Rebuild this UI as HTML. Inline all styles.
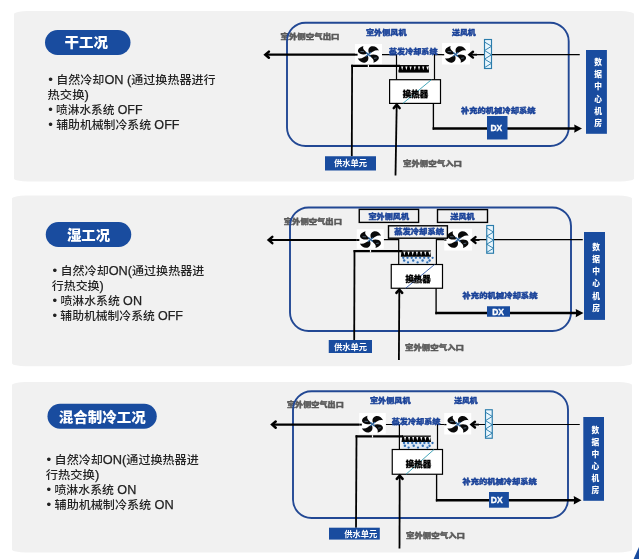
<!DOCTYPE html>
<html lang="zh-CN">
<head>
<meta charset="utf-8">
<title>干工况 / 湿工况 / 混合制冷工况</title>
<style>
html,body{margin:0;padding:0;background:#fff;}
body{width:639px;height:559px;overflow:hidden;}
svg{display:block;transform:translateZ(0);will-change:transform;font-family:'Liberation Sans', 'Noto Sans CJK SC', sans-serif;}
</style>
</head>
<body>
<svg width="639" height="559" viewBox="0 0 639 559">
<rect width="639" height="559" fill="#ffffff"/>
<rect x="14" y="11" width="620" height="170.5" rx="14" ry="3" fill="#f1f1f1"/>
<rect x="45" y="30" width="85.5" height="25" rx="12.5" fill="#194c9f"/>
<text x="86.25" y="42.3" font-size="13.8" fill="#fff" font-weight="900" text-anchor="middle" dominant-baseline="central" textLength="43.5" lengthAdjust="spacingAndGlyphs">干工况</text>
<text x="48.25" y="79.5" font-size="11.5" fill="#222222" font-weight="500" text-anchor="start" dominant-baseline="central" textLength="167.25" lengthAdjust="spacingAndGlyphs"><tspan font-size="12.8" dy="-0.9">•</tspan><tspan dy="0.9"> </tspan>自然冷却<tspan font-size="12.2" font-weight="400" stroke="#222" stroke-width="0.25">ON (</tspan>通过换热器进行</text>
<text x="47.5" y="94.5" font-size="11.5" fill="#222222" font-weight="500" text-anchor="start" dominant-baseline="central" textLength="41.3" lengthAdjust="spacingAndGlyphs">热交换<tspan font-size="12.2" font-weight="400" stroke="#222" stroke-width="0.25">)</tspan></text>
<text x="48.25" y="109.5" font-size="11.5" fill="#222222" font-weight="500" text-anchor="start" dominant-baseline="central" textLength="94.25" lengthAdjust="spacingAndGlyphs"><tspan font-size="12.8" dy="-0.9">•</tspan><tspan dy="0.9"> </tspan>喷淋水系统 <tspan font-size="12.2" font-weight="400" stroke="#222" stroke-width="0.25">OFF</tspan></text>
<text x="48.25" y="124.5" font-size="11.5" fill="#222222" font-weight="500" text-anchor="start" dominant-baseline="central" textLength="131.25" lengthAdjust="spacingAndGlyphs"><tspan font-size="12.8" dy="-0.9">•</tspan><tspan dy="0.9"> </tspan>辅助机械制冷系统 <tspan font-size="12.2" font-weight="400" stroke="#222" stroke-width="0.25">OFF</tspan></text>
<text x="280.5" y="36.3" font-size="6.9" fill="#5a5a5a" font-weight="900" text-anchor="start" dominant-baseline="central" stroke="#5a5a5a" stroke-width="0.4" stroke-linejoin="round" textLength="59.0" lengthAdjust="spacingAndGlyphs">室外侧空气出口</text>
<rect x="287" y="22.7" width="281.70000000000005" height="123.3" rx="18.5" fill="none" stroke="#224894" stroke-width="1.9"/>
<line x1="265.5" y1="54.7" x2="358" y2="54.7" stroke="#000" stroke-width="2.2"/>
<path d="M268.9,51.6 L265.3,54.7 L268.9,57.800000000000004" fill="none" stroke="#000" stroke-width="2.5" stroke-linecap="round" stroke-linejoin="miter"/>
<path d="M382,54.6 L396.5,54.6 L396.5,79.7" fill="none" stroke="#000" stroke-width="1.2"/>
<path d="M445,54.6 L434.5,54.6 L434.5,79.7" fill="none" stroke="#000" stroke-width="1.2"/>
<line x1="470" y1="54.6" x2="579.75" y2="54.6" stroke="#000" stroke-width="1.1"/>
<line x1="351.8" y1="156.25" x2="352.1" y2="64.80000000000001" stroke="#000" stroke-width="1.8"/>
<line x1="351.15000000000003" y1="65.9" x2="400" y2="65.9" stroke="#000" stroke-width="2.2"/>
<line x1="399" y1="65.60000000000001" x2="428.9" y2="65.60000000000001" stroke="#000" stroke-width="1.1"/>
<path d="M398.50,71.5 L399.30,65.9 L428.20,65.9 L429.00,71.5 Z" fill="#000"/>
<path d="M401.11,66.4 L403.21,66.4 L402.16,70.2 Z M405.32,66.4 L407.43,66.4 L406.38,70.2 Z M409.54,66.4 L411.64,66.4 L410.59,70.2 Z M413.75,66.4 L415.86,66.4 L414.80,70.2 Z M417.96,66.4 L420.07,66.4 L419.02,70.2 Z M422.18,66.4 L424.29,66.4 L423.23,70.2 Z M426.39,66.4 L428.50,66.4 L427.45,70.2 Z " fill="#f6f6f6"/>
<rect x="398.6" y="70.30000000000001" width="30.3" height="2.3" fill="#000"/>
<rect x="389.6" y="79.7" width="50.89999999999998" height="23.700000000000003" fill="#fff" stroke="#000" stroke-width="1.2"/>
<line x1="402.9" y1="103.4" x2="431.4" y2="79.7" stroke="#2e9bb0" stroke-width="0.9"/>
<text x="415.55" y="94.3" font-size="8.0" fill="#000" font-weight="900" text-anchor="middle" dominant-baseline="central" stroke="#000" stroke-width="0.35" stroke-linejoin="round" textLength="25.4" lengthAdjust="spacingAndGlyphs">换热器</text>
<line x1="433.4" y1="103.4" x2="433.4" y2="129.7" stroke="#000" stroke-width="1.35"/>
<line x1="432.59999999999997" y1="128.6" x2="577" y2="128.6" stroke="#000" stroke-width="2.5"/>
<path d="M582,128.6 l-7.8,-4.2 l0.5,4.2 l-0.5,4.2 Z" fill="#000"/>
<rect x="487" y="116" width="20.5" height="23.5" fill="#194c9f"/>
<text x="490.4" y="127.95" font-size="8.6" fill="#fff" font-weight="bold" text-anchor="start" dominant-baseline="central" stroke="#fff" stroke-width="0.35" stroke-linejoin="round" textLength="11.8" lengthAdjust="spacingAndGlyphs">DX</text>
<line x1="396.7" y1="104.9" x2="395.5" y2="175.5" stroke="#000" stroke-width="1.8"/>
<path d="M393.8,108.0 L396.7,104.80000000000001 L399.59999999999997,108.0" fill="none" stroke="#000" stroke-width="2.6" stroke-linecap="round" stroke-linejoin="miter"/>
<rect x="325" y="156.25" width="51" height="14.25" fill="#194c9f"/>
<text x="334" y="163.3" font-size="8.5" fill="#fff" font-weight="700" text-anchor="start" dominant-baseline="central" textLength="33" lengthAdjust="spacingAndGlyphs">供水单元</text>
<rect x="586" y="50" width="20.899999999999977" height="83.80000000000001" fill="#194c9f"/>
<text x="597.15" y="58.00" font-size="7.7" fill="#fff" font-weight="900" style="writing-mode:vertical-rl;text-orientation:upright;letter-spacing:4.60px" dominant-baseline="central">数据中心机房</text>
<rect x="355" y="44" width="27" height="20" fill="#fff"/>
<g transform="translate(368.4,54.4) scale(0.9636,0.7613)"><path d="M0.7,-1.5 C-0.6,-5 -0.2,-9.2 3.2,-10.6 C6.6,-11.7 9.7,-8.8 11,-5.2 C8.8,-5.9 6.8,-5.4 5.0,-3.9 C3.8,-2.9 2.4,-1.6 0.7,-1.5 Z" transform="rotate(0)" fill="#0a0a0a"/><path d="M0.7,-1.5 C-0.6,-5 -0.2,-9.2 3.2,-10.6 C6.6,-11.7 9.7,-8.8 11,-5.2 C8.8,-5.9 6.8,-5.4 5.0,-3.9 C3.8,-2.9 2.4,-1.6 0.7,-1.5 Z" transform="rotate(90)" fill="#0a0a0a"/><path d="M0.7,-1.5 C-0.6,-5 -0.2,-9.2 3.2,-10.6 C6.6,-11.7 9.7,-8.8 11,-5.2 C8.8,-5.9 6.8,-5.4 5.0,-3.9 C3.8,-2.9 2.4,-1.6 0.7,-1.5 Z" transform="rotate(180)" fill="#0a0a0a"/><path d="M0.7,-1.5 C-0.6,-5 -0.2,-9.2 3.2,-10.6 C6.6,-11.7 9.7,-8.8 11,-5.2 C8.8,-5.9 6.8,-5.4 5.0,-3.9 C3.8,-2.9 2.4,-1.6 0.7,-1.5 Z" transform="rotate(270)" fill="#0a0a0a"/><path d="M-2.4,-2.8 L2.4,2.8 M-2.6,2.6 L2.6,-2.6" stroke="#2d639c" stroke-width="1.5" fill="none"/><path d="M-8.2,-3.8 L-4.6,-3.6 M5.8,5.2 L8.6,4.6" stroke="#9cc3e6" stroke-width="0.7" fill="none" opacity="0.8"/></g>
<rect x="442" y="43" width="28" height="21.5" fill="#fff"/>
<g transform="translate(455.6,54.4) scale(0.9636,0.7613)"><path d="M0.7,-1.5 C-0.6,-5 -0.2,-9.2 3.2,-10.6 C6.6,-11.7 9.7,-8.8 11,-5.2 C8.8,-5.9 6.8,-5.4 5.0,-3.9 C3.8,-2.9 2.4,-1.6 0.7,-1.5 Z" transform="rotate(0)" fill="#0a0a0a"/><path d="M0.7,-1.5 C-0.6,-5 -0.2,-9.2 3.2,-10.6 C6.6,-11.7 9.7,-8.8 11,-5.2 C8.8,-5.9 6.8,-5.4 5.0,-3.9 C3.8,-2.9 2.4,-1.6 0.7,-1.5 Z" transform="rotate(90)" fill="#0a0a0a"/><path d="M0.7,-1.5 C-0.6,-5 -0.2,-9.2 3.2,-10.6 C6.6,-11.7 9.7,-8.8 11,-5.2 C8.8,-5.9 6.8,-5.4 5.0,-3.9 C3.8,-2.9 2.4,-1.6 0.7,-1.5 Z" transform="rotate(180)" fill="#0a0a0a"/><path d="M0.7,-1.5 C-0.6,-5 -0.2,-9.2 3.2,-10.6 C6.6,-11.7 9.7,-8.8 11,-5.2 C8.8,-5.9 6.8,-5.4 5.0,-3.9 C3.8,-2.9 2.4,-1.6 0.7,-1.5 Z" transform="rotate(270)" fill="#0a0a0a"/><path d="M-2.4,-2.8 L2.4,2.8 M-2.6,2.6 L2.6,-2.6" stroke="#2d639c" stroke-width="1.5" fill="none"/><path d="M-8.2,-3.8 L-4.6,-3.6 M5.8,5.2 L8.6,4.6" stroke="#9cc3e6" stroke-width="0.7" fill="none" opacity="0.8"/></g>
<rect x="367.79999999999995" y="64.7" width="1.2" height="2.4" fill="#f4f4f4"/>
<line x1="355" y1="54.7" x2="357.6" y2="54.7" stroke="#000" stroke-width="1.9"/>
<line x1="442" y1="54.7" x2="444.2" y2="54.7" stroke="#000" stroke-width="1.3"/>
<path d="M473.0,51.800000000000004 L469.4,54.7 L473.0,57.6" fill="none" stroke="#000" stroke-width="2.4" stroke-linecap="round" stroke-linejoin="miter"/>
<line x1="469.5" y1="54.7" x2="477" y2="54.7" stroke="#000" stroke-width="1.8"/>
<rect x="484.5" y="39.5" width="7" height="29" fill="#e9f6fd" stroke="#2b7cab" stroke-width="1.15"/>
<path d="M484.5,42.00 L491.5,46.27 L484.5,50.53 M484.5,50.53 L491.5,54.80 L484.5,59.07 M484.5,59.07 L491.5,63.33 L484.5,67.60 " fill="none" stroke="#2b7cab" stroke-width="0.95"/>
<text x="366" y="32.3" font-size="6.9" fill="#1b4399" font-weight="900" text-anchor="start" dominant-baseline="central" stroke="#1b4399" stroke-width="0.4" stroke-linejoin="round" textLength="40.5" lengthAdjust="spacingAndGlyphs">室外侧风机</text>
<text x="389" y="51.4" font-size="6.7" fill="#1b4399" font-weight="900" text-anchor="start" dominant-baseline="central" stroke="#1b4399" stroke-width="0.4" stroke-linejoin="round" textLength="48.5" lengthAdjust="spacingAndGlyphs">蒸发冷却系统</text>
<text x="452" y="32.8" font-size="6.9" fill="#1b4399" font-weight="900" text-anchor="start" dominant-baseline="central" stroke="#1b4399" stroke-width="0.4" stroke-linejoin="round" textLength="23.75" lengthAdjust="spacingAndGlyphs">送风机</text>
<text x="461" y="110.8" font-size="6.9" fill="#1b4399" font-weight="900" text-anchor="start" dominant-baseline="central" stroke="#1b4399" stroke-width="0.4" stroke-linejoin="round" textLength="74.5" lengthAdjust="spacingAndGlyphs">补充的机械冷却系统</text>
<text x="403" y="163.3" font-size="6.9" fill="#5a5a5a" font-weight="900" text-anchor="start" dominant-baseline="central" stroke="#5a5a5a" stroke-width="0.4" stroke-linejoin="round" textLength="59" lengthAdjust="spacingAndGlyphs">室外侧空气入口</text>
<rect x="12" y="195.5" width="620" height="170.75" rx="14" ry="3" fill="#f1f1f1"/>
<rect x="45.75" y="222" width="85.5" height="25" rx="12.5" fill="#194c9f"/>
<text x="88.5" y="235" font-size="13.8" fill="#fff" font-weight="900" text-anchor="middle" dominant-baseline="central" textLength="43" lengthAdjust="spacingAndGlyphs">湿工况</text>
<text x="52.5" y="270.5" font-size="11.5" fill="#222222" font-weight="500" text-anchor="start" dominant-baseline="central" textLength="151.75" lengthAdjust="spacingAndGlyphs"><tspan font-size="12.8" dy="-0.9">•</tspan><tspan dy="0.9"> </tspan>自然冷却<tspan font-size="12.2" font-weight="400" stroke="#222" stroke-width="0.25">ON(</tspan>通过换热器进</text>
<text x="51.75" y="285.5" font-size="11.5" fill="#222222" font-weight="500" text-anchor="start" dominant-baseline="central" textLength="52" lengthAdjust="spacingAndGlyphs">行热交换<tspan font-size="12.2" font-weight="400" stroke="#222" stroke-width="0.25">)</tspan></text>
<text x="52.5" y="300.5" font-size="11.5" fill="#222222" font-weight="500" text-anchor="start" dominant-baseline="central" textLength="89.5" lengthAdjust="spacingAndGlyphs"><tspan font-size="12.8" dy="-0.9">•</tspan><tspan dy="0.9"> </tspan>喷淋水系统 <tspan font-size="12.2" font-weight="400" stroke="#222" stroke-width="0.25">ON</tspan></text>
<text x="52.5" y="315.75" font-size="11.5" fill="#222222" font-weight="500" text-anchor="start" dominant-baseline="central" textLength="130.5" lengthAdjust="spacingAndGlyphs"><tspan font-size="12.8" dy="-0.9">•</tspan><tspan dy="0.9"> </tspan>辅助机械制冷系统 <tspan font-size="12.2" font-weight="400" stroke="#222" stroke-width="0.25">OFF</tspan></text>
<text x="283.75" y="221.3" font-size="6.9" fill="#5a5a5a" font-weight="900" text-anchor="start" dominant-baseline="central" stroke="#5a5a5a" stroke-width="0.4" stroke-linejoin="round" textLength="58.25" lengthAdjust="spacingAndGlyphs">室外侧空气出口</text>
<rect x="290" y="207.5" width="281" height="123.5" rx="18.5" fill="none" stroke="#224894" stroke-width="1.9"/>
<line x1="268.9" y1="240" x2="359.75" y2="240" stroke="#000" stroke-width="2.2"/>
<path d="M272.29999999999995,236.9 L268.7,240 L272.29999999999995,243.1" fill="none" stroke="#000" stroke-width="2.5" stroke-linecap="round" stroke-linejoin="miter"/>
<path d="M383.75,239.6 L398.7,239.6 L398.7,264.5" fill="none" stroke="#000" stroke-width="1.2"/>
<path d="M447.25,239.6 L436.4,239.6 L436.4,264.5" fill="none" stroke="#000" stroke-width="1.2"/>
<line x1="472.5" y1="239.6" x2="582.75" y2="239.6" stroke="#000" stroke-width="1.1"/>
<line x1="354.2" y1="340" x2="354.5" y2="250.1" stroke="#000" stroke-width="1.8"/>
<line x1="353.55" y1="251.2" x2="402.25" y2="251.2" stroke="#000" stroke-width="2.2"/>
<line x1="401.25" y1="250.89999999999998" x2="430.9" y2="250.89999999999998" stroke="#000" stroke-width="1.1"/>
<path d="M400.75,256.8 L401.55,251.2 L430.20,251.2 L431.00,256.8 Z" fill="#000"/>
<path d="M403.34,251.7 L405.43,251.7 L404.38,255.5 Z M407.52,251.7 L409.61,251.7 L408.56,255.5 Z M411.70,251.7 L413.79,251.7 L412.74,255.5 Z M415.88,251.7 L417.96,251.7 L416.92,255.5 Z M420.05,251.7 L422.14,251.7 L421.10,255.5 Z M424.23,251.7 L426.32,251.7 L425.28,255.5 Z M428.41,251.7 L430.50,251.7 L429.46,255.5 Z " fill="#f6f6f6"/>
<rect x="401.75" y="257.0" width="28.25" height="6.2" fill="#cfe2f6" opacity="0.55"/>
<circle cx="403.3" cy="257.8" r="1.15" fill="#2f6db3"/>
<circle cx="407.5" cy="257.8" r="1.15" fill="#2f6db3"/>
<circle cx="411.7" cy="257.8" r="1.15" fill="#2f6db3"/>
<circle cx="415.9" cy="257.8" r="1.15" fill="#2f6db3"/>
<circle cx="420.1" cy="257.8" r="1.15" fill="#2f6db3"/>
<circle cx="424.2" cy="257.8" r="1.15" fill="#2f6db3"/>
<circle cx="428.4" cy="257.8" r="1.15" fill="#2f6db3"/>
<circle cx="432.6" cy="257.8" r="1.15" fill="#2f6db3"/>
<circle cx="404.2" cy="260.5" r="1.2" fill="#2f6db3"/>
<circle cx="413.2" cy="260.5" r="1.2" fill="#2f6db3"/>
<circle cx="422.6" cy="260.5" r="1.2" fill="#2f6db3"/>
<circle cx="429.6" cy="260.5" r="1.2" fill="#2f6db3"/>
<circle cx="408.0" cy="262.4" r="1.15" fill="#2f6db3"/>
<circle cx="417.6" cy="262.4" r="1.15" fill="#2f6db3"/>
<circle cx="427.3" cy="262.4" r="1.15" fill="#2f6db3"/>
<rect x="391.25" y="264.5" width="51.25" height="23.75" fill="#fff" stroke="#000" stroke-width="1.2"/>
<line x1="405.6" y1="288.25" x2="434.6" y2="264.5" stroke="#2b55a5" stroke-width="0.9"/>
<text x="418.075" y="279.1" font-size="8.0" fill="#000" font-weight="900" text-anchor="middle" dominant-baseline="central" stroke="#000" stroke-width="0.35" stroke-linejoin="round" textLength="25.4" lengthAdjust="spacingAndGlyphs">换热器</text>
<line x1="436.1" y1="288.25" x2="436.1" y2="314.20000000000005" stroke="#000" stroke-width="1.35"/>
<line x1="435.3" y1="313.1" x2="578.5" y2="313.1" stroke="#000" stroke-width="2.5"/>
<path d="M583.5,313.1 l-7.8,-4.2 l0.5,4.2 l-0.5,4.2 Z" fill="#000"/>
<rect x="487" y="306.25" width="23" height="10.5" fill="#194c9f"/>
<text x="492.2" y="311.7" font-size="8.6" fill="#fff" font-weight="bold" text-anchor="start" dominant-baseline="central" stroke="#fff" stroke-width="0.35" stroke-linejoin="round" textLength="11.8" lengthAdjust="spacingAndGlyphs">DX</text>
<line x1="399.3" y1="289.75" x2="398.9" y2="360" stroke="#000" stroke-width="1.8"/>
<path d="M396.40000000000003,292.85 L399.3,289.65 L402.2,292.85" fill="none" stroke="#000" stroke-width="2.6" stroke-linecap="round" stroke-linejoin="miter"/>
<rect x="328.75" y="340" width="43.25" height="13" fill="#194c9f"/>
<text x="334" y="347" font-size="8.5" fill="#fff" font-weight="700" text-anchor="start" dominant-baseline="central" textLength="33" lengthAdjust="spacingAndGlyphs">供水单元</text>
<rect x="584" y="232" width="21" height="87.89999999999998" fill="#194c9f"/>
<text x="595.20" y="243.00" font-size="7.7" fill="#fff" font-weight="900" style="writing-mode:vertical-rl;text-orientation:upright;letter-spacing:4.50px" dominant-baseline="central">数据中心机房</text>
<rect x="356.75" y="229.25" width="27.0" height="19.5" fill="#fff"/>
<g transform="translate(370.5,239.6) scale(0.9636,0.7613)"><path d="M0.7,-1.5 C-0.6,-5 -0.2,-9.2 3.2,-10.6 C6.6,-11.7 9.7,-8.8 11,-5.2 C8.8,-5.9 6.8,-5.4 5.0,-3.9 C3.8,-2.9 2.4,-1.6 0.7,-1.5 Z" transform="rotate(0)" fill="#0a0a0a"/><path d="M0.7,-1.5 C-0.6,-5 -0.2,-9.2 3.2,-10.6 C6.6,-11.7 9.7,-8.8 11,-5.2 C8.8,-5.9 6.8,-5.4 5.0,-3.9 C3.8,-2.9 2.4,-1.6 0.7,-1.5 Z" transform="rotate(90)" fill="#0a0a0a"/><path d="M0.7,-1.5 C-0.6,-5 -0.2,-9.2 3.2,-10.6 C6.6,-11.7 9.7,-8.8 11,-5.2 C8.8,-5.9 6.8,-5.4 5.0,-3.9 C3.8,-2.9 2.4,-1.6 0.7,-1.5 Z" transform="rotate(180)" fill="#0a0a0a"/><path d="M0.7,-1.5 C-0.6,-5 -0.2,-9.2 3.2,-10.6 C6.6,-11.7 9.7,-8.8 11,-5.2 C8.8,-5.9 6.8,-5.4 5.0,-3.9 C3.8,-2.9 2.4,-1.6 0.7,-1.5 Z" transform="rotate(270)" fill="#0a0a0a"/><path d="M-2.4,-2.8 L2.4,2.8 M-2.6,2.6 L2.6,-2.6" stroke="#2d639c" stroke-width="1.5" fill="none"/><path d="M-8.2,-3.8 L-4.6,-3.6 M5.8,5.2 L8.6,4.6" stroke="#9cc3e6" stroke-width="0.7" fill="none" opacity="0.8"/></g>
<rect x="444.25" y="228.75" width="27.75" height="21.75" fill="#fff"/>
<g transform="translate(458,239.6) scale(0.9636,0.7613)"><path d="M0.7,-1.5 C-0.6,-5 -0.2,-9.2 3.2,-10.6 C6.6,-11.7 9.7,-8.8 11,-5.2 C8.8,-5.9 6.8,-5.4 5.0,-3.9 C3.8,-2.9 2.4,-1.6 0.7,-1.5 Z" transform="rotate(0)" fill="#0a0a0a"/><path d="M0.7,-1.5 C-0.6,-5 -0.2,-9.2 3.2,-10.6 C6.6,-11.7 9.7,-8.8 11,-5.2 C8.8,-5.9 6.8,-5.4 5.0,-3.9 C3.8,-2.9 2.4,-1.6 0.7,-1.5 Z" transform="rotate(90)" fill="#0a0a0a"/><path d="M0.7,-1.5 C-0.6,-5 -0.2,-9.2 3.2,-10.6 C6.6,-11.7 9.7,-8.8 11,-5.2 C8.8,-5.9 6.8,-5.4 5.0,-3.9 C3.8,-2.9 2.4,-1.6 0.7,-1.5 Z" transform="rotate(180)" fill="#0a0a0a"/><path d="M0.7,-1.5 C-0.6,-5 -0.2,-9.2 3.2,-10.6 C6.6,-11.7 9.7,-8.8 11,-5.2 C8.8,-5.9 6.8,-5.4 5.0,-3.9 C3.8,-2.9 2.4,-1.6 0.7,-1.5 Z" transform="rotate(270)" fill="#0a0a0a"/><path d="M-2.4,-2.8 L2.4,2.8 M-2.6,2.6 L2.6,-2.6" stroke="#2d639c" stroke-width="1.5" fill="none"/><path d="M-8.2,-3.8 L-4.6,-3.6 M5.8,5.2 L8.6,4.6" stroke="#9cc3e6" stroke-width="0.7" fill="none" opacity="0.8"/></g>
<rect x="369.9" y="250.0" width="1.2" height="2.4" fill="#f4f4f4"/>
<line x1="356.75" y1="240" x2="359.35" y2="240" stroke="#000" stroke-width="1.9"/>
<line x1="444.25" y1="240" x2="446.45" y2="240" stroke="#000" stroke-width="1.3"/>
<path d="M475.5,237.1 L471.9,240 L475.5,242.9" fill="none" stroke="#000" stroke-width="2.4" stroke-linecap="round" stroke-linejoin="miter"/>
<line x1="472.0" y1="240" x2="479.5" y2="240" stroke="#000" stroke-width="1.8"/>
<rect x="486.75" y="225.5" width="6.75" height="27.75" fill="#e9f6fd" stroke="#2b7cab" stroke-width="1.15"/>
<path d="M486.75,228.00 L493.5,232.06 L486.75,236.12 M486.75,236.12 L493.5,240.18 L486.75,244.23 M486.75,244.23 L493.5,248.29 L486.75,252.35 " fill="none" stroke="#2b7cab" stroke-width="0.95"/>
<rect x="359.25" y="209.4" width="59.35000000000002" height="13.0" fill="#f1f1f1" stroke="#000" stroke-width="1.4"/>
<text x="368.5" y="216.3" font-size="6.9" fill="#1b4399" font-weight="900" text-anchor="start" dominant-baseline="central" stroke="#1b4399" stroke-width="0.4" stroke-linejoin="round" textLength="40.5" lengthAdjust="spacingAndGlyphs">室外侧风机</text>
<rect x="388.5" y="225.8" width="58.89999999999998" height="12.399999999999977" fill="#f1f1f1" stroke="#000" stroke-width="1.4"/>
<text x="394.2" y="231.9" font-size="6.9" fill="#1b4399" font-weight="900" text-anchor="start" dominant-baseline="central" stroke="#1b4399" stroke-width="0.4" stroke-linejoin="round" textLength="49.80000000000001" lengthAdjust="spacingAndGlyphs">蒸发冷却系统</text>
<rect x="437.5" y="209.6" width="50.0" height="12.800000000000011" fill="#f1f1f1" stroke="#000" stroke-width="1.4"/>
<text x="450.5" y="216.3" font-size="6.9" fill="#1b4399" font-weight="900" text-anchor="start" dominant-baseline="central" stroke="#1b4399" stroke-width="0.4" stroke-linejoin="round" textLength="24.0" lengthAdjust="spacingAndGlyphs">送风机</text>
<text x="462.5" y="295.8" font-size="6.9" fill="#1b4399" font-weight="900" text-anchor="start" dominant-baseline="central" stroke="#1b4399" stroke-width="0.4" stroke-linejoin="round" textLength="75.0" lengthAdjust="spacingAndGlyphs">补充的机械冷却系统</text>
<text x="405" y="347.3" font-size="6.9" fill="#5a5a5a" font-weight="900" text-anchor="start" dominant-baseline="central" stroke="#5a5a5a" stroke-width="0.4" stroke-linejoin="round" textLength="59" lengthAdjust="spacingAndGlyphs">室外侧空气入口</text>
<rect x="12" y="382" width="620" height="170.39999999999998" rx="14" ry="3" fill="#f1f1f1"/>
<rect x="47.5" y="403.75" width="109.25" height="25.0" rx="12.5" fill="#194c9f"/>
<text x="102.25" y="417.3" font-size="13.8" fill="#fff" font-weight="900" text-anchor="middle" dominant-baseline="central" textLength="87.0" lengthAdjust="spacingAndGlyphs">混合制冷工况</text>
<text x="46.5" y="459.5" font-size="11.5" fill="#222222" font-weight="500" text-anchor="start" dominant-baseline="central" textLength="152.25" lengthAdjust="spacingAndGlyphs"><tspan font-size="12.8" dy="-0.9">•</tspan><tspan dy="0.9"> </tspan>自然冷却<tspan font-size="12.2" font-weight="400" stroke="#222" stroke-width="0.25">ON(</tspan>通过换热器进</text>
<text x="45.75" y="474.5" font-size="11.5" fill="#222222" font-weight="500" text-anchor="start" dominant-baseline="central" textLength="53.5" lengthAdjust="spacingAndGlyphs">行热交换<tspan font-size="12.2" font-weight="400" stroke="#222" stroke-width="0.25">)</tspan></text>
<text x="46.5" y="489.5" font-size="11.5" fill="#222222" font-weight="500" text-anchor="start" dominant-baseline="central" textLength="89.75" lengthAdjust="spacingAndGlyphs"><tspan font-size="12.8" dy="-0.9">•</tspan><tspan dy="0.9"> </tspan>喷淋水系统 <tspan font-size="12.2" font-weight="400" stroke="#222" stroke-width="0.25">ON</tspan></text>
<text x="46.5" y="504.5" font-size="11.5" fill="#222222" font-weight="500" text-anchor="start" dominant-baseline="central" textLength="127.25" lengthAdjust="spacingAndGlyphs"><tspan font-size="12.8" dy="-0.9">•</tspan><tspan dy="0.9"> </tspan>辅助机械制冷系统 <tspan font-size="12.2" font-weight="400" stroke="#222" stroke-width="0.25">ON</tspan></text>
<text x="287" y="404.8" font-size="6.9" fill="#5a5a5a" font-weight="900" text-anchor="start" dominant-baseline="central" stroke="#5a5a5a" stroke-width="0.4" stroke-linejoin="round" textLength="56.75" lengthAdjust="spacingAndGlyphs">室外侧空气出口</text>
<rect x="293" y="391.25" width="275" height="126.75" rx="18.5" fill="none" stroke="#224894" stroke-width="1.9"/>
<line x1="272.3" y1="424.6" x2="362.25" y2="424.6" stroke="#000" stroke-width="2.2"/>
<path d="M275.7,421.5 L272.1,424.6 L275.7,427.70000000000005" fill="none" stroke="#000" stroke-width="2.5" stroke-linecap="round" stroke-linejoin="miter"/>
<path d="M385.75,424.5 L399.4,424.5 L399.4,449.5" fill="none" stroke="#000" stroke-width="1.2"/>
<path d="M447.25,424.5 L437.5,424.5 L437.5,449.5" fill="none" stroke="#000" stroke-width="1.2"/>
<line x1="472" y1="424.5" x2="579.75" y2="424.5" stroke="#000" stroke-width="1.1"/>
<line x1="356" y1="527.7" x2="356.5" y2="435.29999999999995" stroke="#000" stroke-width="1.8"/>
<line x1="355.55" y1="436.4" x2="403" y2="436.4" stroke="#000" stroke-width="2.2"/>
<line x1="402" y1="436.09999999999997" x2="430.9" y2="436.09999999999997" stroke="#000" stroke-width="1.1"/>
<path d="M401.50,442.0 L402.30,436.4 L430.20,436.4 L431.00,442.0 Z" fill="#000"/>
<path d="M404.04,436.9 L406.07,436.9 L405.05,440.7 Z M408.11,436.9 L410.14,436.9 L409.12,440.7 Z M412.18,436.9 L414.21,436.9 L413.20,440.7 Z M416.25,436.9 L418.29,436.9 L417.27,440.7 Z M420.32,436.9 L422.36,436.9 L421.34,440.7 Z M424.39,436.9 L426.43,436.9 L425.41,440.7 Z M428.46,436.9 L430.50,436.9 L429.48,440.7 Z " fill="#f6f6f6"/>
<rect x="402.5" y="442.2" width="27.5" height="6.2" fill="#cfe2f6" opacity="0.55"/>
<circle cx="404.0" cy="443.0" r="1.15" fill="#2f6db3"/>
<circle cx="408.1" cy="443.0" r="1.15" fill="#2f6db3"/>
<circle cx="412.2" cy="443.0" r="1.15" fill="#2f6db3"/>
<circle cx="416.2" cy="443.0" r="1.15" fill="#2f6db3"/>
<circle cx="420.3" cy="443.0" r="1.15" fill="#2f6db3"/>
<circle cx="424.4" cy="443.0" r="1.15" fill="#2f6db3"/>
<circle cx="428.5" cy="443.0" r="1.15" fill="#2f6db3"/>
<circle cx="432.5" cy="443.0" r="1.15" fill="#2f6db3"/>
<circle cx="404.9" cy="445.7" r="1.2" fill="#2f6db3"/>
<circle cx="413.7" cy="445.7" r="1.2" fill="#2f6db3"/>
<circle cx="422.8" cy="445.7" r="1.2" fill="#2f6db3"/>
<circle cx="429.6" cy="445.7" r="1.2" fill="#2f6db3"/>
<circle cx="408.6" cy="447.6" r="1.15" fill="#2f6db3"/>
<circle cx="418.0" cy="447.6" r="1.15" fill="#2f6db3"/>
<circle cx="427.4" cy="447.6" r="1.15" fill="#2f6db3"/>
<rect x="392.25" y="449.5" width="50.25" height="24.75" fill="#fff" stroke="#000" stroke-width="1.2"/>
<line x1="406" y1="474.25" x2="434" y2="449.5" stroke="#2e9bb0" stroke-width="0.9"/>
<text x="418.475" y="464.1" font-size="8.0" fill="#000" font-weight="900" text-anchor="middle" dominant-baseline="central" stroke="#000" stroke-width="0.35" stroke-linejoin="round" textLength="25.4" lengthAdjust="spacingAndGlyphs">换热器</text>
<line x1="436.6" y1="474.25" x2="436.6" y2="501.40000000000003" stroke="#000" stroke-width="1.35"/>
<line x1="435.8" y1="500.3" x2="576.5" y2="500.3" stroke="#000" stroke-width="2.5"/>
<path d="M581.5,500.3 l-7.8,-4.2 l0.5,4.2 l-0.5,4.2 Z" fill="#000"/>
<rect x="489" y="492" width="19.899999999999977" height="15.699999999999989" fill="#194c9f"/>
<text x="490.8" y="500.05" font-size="8.6" fill="#fff" font-weight="bold" text-anchor="start" dominant-baseline="central" stroke="#fff" stroke-width="0.35" stroke-linejoin="round" textLength="11.8" lengthAdjust="spacingAndGlyphs">DX</text>
<line x1="399.7" y1="475.75" x2="399.5" y2="548.5" stroke="#000" stroke-width="1.8"/>
<path d="M396.8,478.85 L399.7,475.65 L402.59999999999997,478.85" fill="none" stroke="#000" stroke-width="2.6" stroke-linecap="round" stroke-linejoin="miter"/>
<rect x="329" y="527.7" width="50.80000000000001" height="11.899999999999977" fill="#194c9f"/>
<text x="344.25" y="534.3" font-size="8.5" fill="#fff" font-weight="700" text-anchor="start" dominant-baseline="central" textLength="33" lengthAdjust="spacingAndGlyphs">供水单元</text>
<rect x="583.3" y="417" width="20.700000000000045" height="83.80000000000001" fill="#194c9f"/>
<text x="594.35" y="426.00" font-size="7.7" fill="#fff" font-weight="900" style="writing-mode:vertical-rl;text-orientation:upright;letter-spacing:4.30px" dominant-baseline="central">数据中心机房</text>
<rect x="359.25" y="413" width="26.5" height="20.75" fill="#fff"/>
<g transform="translate(372.5,424.2) scale(0.9636,0.7613)"><path d="M0.7,-1.5 C-0.6,-5 -0.2,-9.2 3.2,-10.6 C6.6,-11.7 9.7,-8.8 11,-5.2 C8.8,-5.9 6.8,-5.4 5.0,-3.9 C3.8,-2.9 2.4,-1.6 0.7,-1.5 Z" transform="rotate(0)" fill="#0a0a0a"/><path d="M0.7,-1.5 C-0.6,-5 -0.2,-9.2 3.2,-10.6 C6.6,-11.7 9.7,-8.8 11,-5.2 C8.8,-5.9 6.8,-5.4 5.0,-3.9 C3.8,-2.9 2.4,-1.6 0.7,-1.5 Z" transform="rotate(90)" fill="#0a0a0a"/><path d="M0.7,-1.5 C-0.6,-5 -0.2,-9.2 3.2,-10.6 C6.6,-11.7 9.7,-8.8 11,-5.2 C8.8,-5.9 6.8,-5.4 5.0,-3.9 C3.8,-2.9 2.4,-1.6 0.7,-1.5 Z" transform="rotate(180)" fill="#0a0a0a"/><path d="M0.7,-1.5 C-0.6,-5 -0.2,-9.2 3.2,-10.6 C6.6,-11.7 9.7,-8.8 11,-5.2 C8.8,-5.9 6.8,-5.4 5.0,-3.9 C3.8,-2.9 2.4,-1.6 0.7,-1.5 Z" transform="rotate(270)" fill="#0a0a0a"/><path d="M-2.4,-2.8 L2.4,2.8 M-2.6,2.6 L2.6,-2.6" stroke="#2d639c" stroke-width="1.5" fill="none"/><path d="M-8.2,-3.8 L-4.6,-3.6 M5.8,5.2 L8.6,4.6" stroke="#9cc3e6" stroke-width="0.7" fill="none" opacity="0.8"/></g>
<rect x="444.25" y="413" width="27.0" height="21.5" fill="#fff"/>
<g transform="translate(458,424.2) scale(0.9636,0.7613)"><path d="M0.7,-1.5 C-0.6,-5 -0.2,-9.2 3.2,-10.6 C6.6,-11.7 9.7,-8.8 11,-5.2 C8.8,-5.9 6.8,-5.4 5.0,-3.9 C3.8,-2.9 2.4,-1.6 0.7,-1.5 Z" transform="rotate(0)" fill="#0a0a0a"/><path d="M0.7,-1.5 C-0.6,-5 -0.2,-9.2 3.2,-10.6 C6.6,-11.7 9.7,-8.8 11,-5.2 C8.8,-5.9 6.8,-5.4 5.0,-3.9 C3.8,-2.9 2.4,-1.6 0.7,-1.5 Z" transform="rotate(90)" fill="#0a0a0a"/><path d="M0.7,-1.5 C-0.6,-5 -0.2,-9.2 3.2,-10.6 C6.6,-11.7 9.7,-8.8 11,-5.2 C8.8,-5.9 6.8,-5.4 5.0,-3.9 C3.8,-2.9 2.4,-1.6 0.7,-1.5 Z" transform="rotate(180)" fill="#0a0a0a"/><path d="M0.7,-1.5 C-0.6,-5 -0.2,-9.2 3.2,-10.6 C6.6,-11.7 9.7,-8.8 11,-5.2 C8.8,-5.9 6.8,-5.4 5.0,-3.9 C3.8,-2.9 2.4,-1.6 0.7,-1.5 Z" transform="rotate(270)" fill="#0a0a0a"/><path d="M-2.4,-2.8 L2.4,2.8 M-2.6,2.6 L2.6,-2.6" stroke="#2d639c" stroke-width="1.5" fill="none"/><path d="M-8.2,-3.8 L-4.6,-3.6 M5.8,5.2 L8.6,4.6" stroke="#9cc3e6" stroke-width="0.7" fill="none" opacity="0.8"/></g>
<rect x="371.9" y="435.2" width="1.2" height="2.4" fill="#f4f4f4"/>
<line x1="359.25" y1="424.6" x2="361.85" y2="424.6" stroke="#000" stroke-width="1.9"/>
<line x1="444.25" y1="424.6" x2="446.45" y2="424.6" stroke="#000" stroke-width="1.3"/>
<path d="M475.0,421.70000000000005 L471.4,424.6 L475.0,427.5" fill="none" stroke="#000" stroke-width="2.4" stroke-linecap="round" stroke-linejoin="miter"/>
<line x1="471.5" y1="424.6" x2="479" y2="424.6" stroke="#000" stroke-width="1.8"/>
<rect x="485.5" y="409.75" width="6.75" height="28.5" fill="#e9f6fd" stroke="#2b7cab" stroke-width="1.15"/>
<path d="M485.5,412.25 L492.25,416.43 L485.5,420.62 M485.5,420.62 L492.25,424.80 L485.5,428.98 M485.5,428.98 L492.25,433.17 L485.5,437.35 " fill="none" stroke="#2b7cab" stroke-width="0.95"/>
<text x="370" y="400.8" font-size="6.9" fill="#1b4399" font-weight="900" text-anchor="start" dominant-baseline="central" stroke="#1b4399" stroke-width="0.4" stroke-linejoin="round" textLength="40.5" lengthAdjust="spacingAndGlyphs">室外侧风机</text>
<text x="391.75" y="421.4" font-size="6.7" fill="#1b4399" font-weight="900" text-anchor="start" dominant-baseline="central" stroke="#1b4399" stroke-width="0.4" stroke-linejoin="round" textLength="48.75" lengthAdjust="spacingAndGlyphs">蒸发冷却系统</text>
<text x="454.25" y="400.8" font-size="6.9" fill="#1b4399" font-weight="900" text-anchor="start" dominant-baseline="central" stroke="#1b4399" stroke-width="0.4" stroke-linejoin="round" textLength="23.25" lengthAdjust="spacingAndGlyphs">送风机</text>
<text x="462.5" y="481.55" font-size="6.9" fill="#1b4399" font-weight="900" text-anchor="start" dominant-baseline="central" stroke="#1b4399" stroke-width="0.4" stroke-linejoin="round" textLength="74.25" lengthAdjust="spacingAndGlyphs">补充的机械冷却系统</text>
<text x="406" y="535.3" font-size="6.9" fill="#5a5a5a" font-weight="900" text-anchor="start" dominant-baseline="central" stroke="#5a5a5a" stroke-width="0.4" stroke-linejoin="round" textLength="59" lengthAdjust="spacingAndGlyphs">室外侧空气入口</text>
<path d="M639,547 L633.6,559 L639,559 Z" fill="#194c9f"/>
</svg>
</body>
</html>
